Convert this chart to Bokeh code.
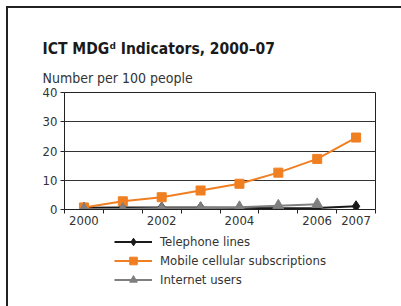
from bokeh.plotting import figure
from bokeh.layouts import column
from bokeh.models import FixedTicker, Legend, LegendItem, Range1d, Title
from bokeh.embed import file_html
from bokeh.resources import INLINE

years = [2000, 2001, 2002, 2003, 2004, 2005, 2006, 2007]
telephone = [0.6, 0.7, 0.7, 0.7, 0.6, 0.4, 0.5, 1.1]
mobile = [0.7, 2.8, 4.2, 6.5, 8.8, 12.6, 17.3, 24.6]
internet_years = [2000, 2001, 2002, 2003, 2004, 2005, 2006]
internet = [0.1, 0.2, 0.4, 0.5, 0.8, 1.3, 1.8]
x_tick_years = [2000, 2002, 2004, 2006, 2007]
y_ticks = [0, 10, 20, 30, 40]
series_names = ["Telephone lines", "Mobile cellular subscriptions", "Internet users"]
title_text = "ICT MDG\u1d48 Indicators, 2000\u201307"
subtitle_text = "Number per 100 people"

FONT = "DejaVu Sans Condensed"
ORANGE = "#f07f22"
GRAY = "#7f7f7f"
BLACK = "#1a1a1a"

p = figure(frame_width=311, frame_height=117, output_backend="svg", toolbar_location=None,
           x_range=Range1d(1999.5, 2007.5), y_range=Range1d(0, 40), title=None,
           min_border_left=56, min_border_right=26, min_border_top=84, min_border_bottom=23)
p.outline_line_color = "#222"
p.background_fill_color = "white"
p.border_fill_color = "white"

p.xgrid.grid_line_color = None
p.ygrid.ticker = FixedTicker(ticks=[10, 20, 30])
p.ygrid.grid_line_color = "#333333"
p.ygrid.grid_line_width = 1

p.xaxis.ticker = FixedTicker(ticks=x_tick_years,
                             minor_ticks=[y - 0.5 for y in years] + [2007.5])
p.xaxis.major_tick_out = 0
p.xaxis.major_tick_in = 0
p.xaxis.minor_tick_out = 4
p.xaxis.minor_tick_in = 0
p.xaxis.minor_tick_line_color = "#222"
p.yaxis.ticker = FixedTicker(ticks=y_ticks)
p.yaxis.minor_tick_line_color = None
p.yaxis.major_tick_out = 4
p.yaxis.major_tick_in = 0
for ax in (p.xaxis[0], p.yaxis[0]):
    ax.axis_line_color = "#222"
    ax.major_tick_line_color = "#222"
    ax.major_label_text_font = FONT
    ax.major_label_text_font_size = "13px"
    ax.major_label_text_color = "#333333"
p.yaxis.major_label_standoff = 3
p.xaxis.major_label_standoff = 2


def draw_series(fig):
    r = []
    r.append([fig.line(years, telephone, line_color=BLACK, line_width=2),
              fig.scatter(years, telephone, marker="diamond", size=11, fill_color=BLACK, line_color=BLACK)])
    r.append([fig.line(years, mobile, line_color=ORANGE, line_width=2),
              fig.scatter(years, mobile, marker="square", size=9, fill_color=ORANGE, line_color=ORANGE)])
    r.append([fig.line(internet_years, internet, line_color=GRAY, line_width=2),
              fig.scatter(internet_years, internet, marker="triangle", size=11, fill_color=GRAY, line_color=GRAY)])
    return r


draw_series(p)

sub = Title(text=subtitle_text, align="left", offset=-22, standoff=14,
            text_font=FONT, text_font_size="14px", text_font_style="normal", text_color="#333333")
p.add_layout(sub, "above")
ttl = Title(text=title_text, align="left", offset=-22, standoff=5,
            text_font=FONT, text_font_size="15.5px", text_font_style="bold", text_color="#1a1a1a")
p.add_layout(ttl, "above")

# legend panel: a plain figure whose frame holds only the legend
q = figure(width=393, height=74, output_backend="svg", toolbar_location=None,
           x_range=Range1d(0, 1), y_range=Range1d(0, 1), x_axis_type=None, y_axis_type=None,
           min_border=0, title=None)
q.outline_line_color = None
q.xgrid.grid_line_color = None
q.ygrid.grid_line_color = None
q.background_fill_color = "white"
q.border_fill_color = "white"
leg_r = draw_series(q)

legend = Legend(items=[LegendItem(label=n, renderers=rs) for n, rs in zip(series_names, leg_r)],
                location=(50, 17))
legend.glyph_width = 38
legend.glyph_height = 19
legend.label_height = 19
legend.spacing = 0
legend.padding = 0
legend.margin = 0
legend.label_standoff = 8
legend.border_line_color = None
legend.background_fill_alpha = 0
legend.label_text_font = FONT
legend.label_text_font_size = "13px"
legend.label_text_color = "#333333"
q.add_layout(legend)

layout = column(p, q, spacing=0)
layout.styles = {"margin-left": "6px", "margin-top": "6px",
                 "border-left": "2px solid #222", "border-top": "2px solid #222"}

open("out.html", "w").write(file_html(layout, INLINE))
